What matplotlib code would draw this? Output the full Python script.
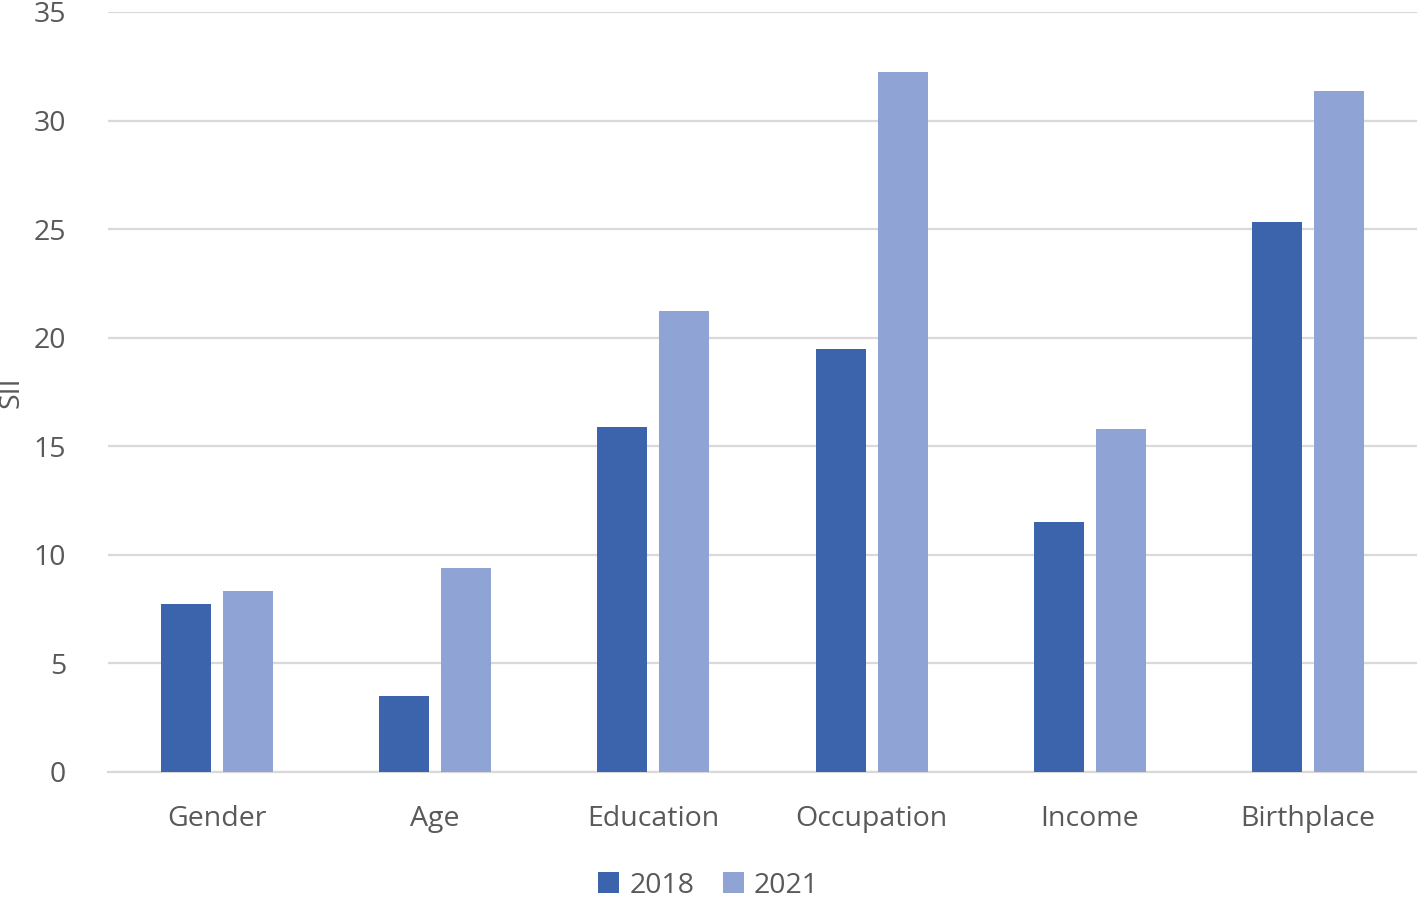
import numpy as np
import matplotlib
matplotlib.use("Agg")
import matplotlib.pyplot as plt

categories = ["Gender", "Age", "Education", "Occupation", "Income", "Birthplace"]
sii_2018 = [7.75, 3.5, 15.9, 19.5, 11.5, 25.35]
sii_2021 = [8.35, 9.4, 21.25, 32.25, 15.8, 31.35]
yticks = [0, 5, 10, 15, 20, 25, 30, 35]

plt.rcParams['font.family'] = ['Open Sans', 'DejaVu Sans']
txt = '#595959'
grid = '#D9D9D9'
fs = 20.5

fig = plt.figure(figsize=(14.17, 9.01), dpi=100)
ax = fig.add_axes([108/1417, 1 - 772/901, 1 - 108/1417, (772 - 12)/901])

x = np.arange(len(categories))
w = 0.229
off = 0.142
ax.bar(x - off, sii_2018, width=w, color='#3C64AC', label='2018', zorder=3)
ax.bar(x + off, sii_2021, width=w, color='#8FA3D4', label='2021', zorder=3)

ax.set_xlim(-0.5, len(categories) - 0.5)
ax.set_ylim(0, 35)
ax.set_yticks(yticks)
ax.set_xticks(x)
ax.set_xticklabels(categories)
ax.yaxis.grid(True, color=grid, linewidth=1.6, zorder=0)
ax.set_axisbelow(True)
for s in ['top', 'right', 'left']:
    ax.spines[s].set_visible(False)
ax.spines['bottom'].set_color(grid)
ax.spines['bottom'].set_linewidth(1.6)
ax.tick_params(axis='both', length=0, colors=txt, labelsize=fs)
ax.tick_params(axis='y', pad=30)
ax.tick_params(axis='x', pad=24)

# y label sits at the very left edge, as in the original
fig.text(12/1417, 1 - 392/901, 'SII', rotation=90, color=txt, fontsize=fs,
         ha='center', va='center')

fig.legend(loc='lower center', bbox_to_anchor=(0.5, -0.027), ncol=2, frameon=False,
           fontsize=fs, labelcolor=txt, handlelength=0.75, handleheight=0.75,
           handletextpad=0.35, columnspacing=1.0)

fig.savefig('out.png', dpi=100)
